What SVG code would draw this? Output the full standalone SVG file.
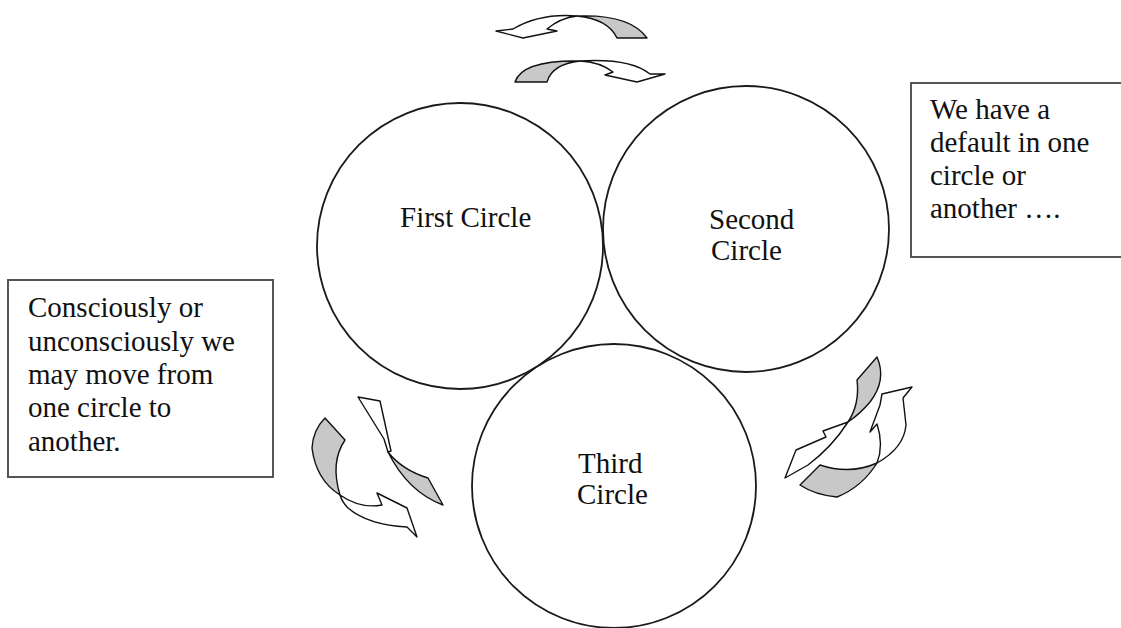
<svg xmlns="http://www.w3.org/2000/svg" width="1121" height="628" viewBox="0 0 1121 628">
<style>
.c{fill:#fff;stroke:#1a1a1a;stroke-width:1.8}
.b{fill:#fff;stroke:#555;stroke-width:2}
.t{font-family:"Liberation Serif","Times New Roman",serif;font-size:29px;fill:#111}
.w{fill:#fff;stroke:#111;stroke-width:1.4;stroke-linejoin:round}
.g{fill:#c8c8c8;stroke:#111;stroke-width:1.4;stroke-linejoin:round}
</style>
<rect width="1121" height="628" fill="#fff"/>
<g id="box-left">
<rect class="b" x="8" y="280" width="265" height="197"/>
<text class="t" x="28" y="317">Consciously or</text>
<text class="t" x="28" y="351">unconsciously we</text>
<text class="t" x="28" y="384">may move from</text>
<text class="t" x="28" y="417">one circle to</text>
<text class="t" x="28" y="451">another.</text>
</g>
<g id="box-right">
<rect class="b" x="911" y="83" width="220" height="174"/>
<text class="t" x="930" y="119">We have a</text>
<text class="t" x="930" y="152">default in one</text>
<text class="t" x="930" y="185">circle or</text>
<text class="t" x="930" y="218">another ….</text>
</g>
<g id="first-circle">
<circle class="c" cx="460" cy="246" r="143"/>
<text class="t" x="400" y="227">First Circle</text>
</g>
<g id="second-circle">
<circle class="c" cx="746" cy="229" r="143"/>
<text class="t" x="709" y="229">Second</text>
<text class="t" x="711" y="260">Circle</text>
</g>
<g id="third-circle">
<circle class="c" cx="614" cy="486" r="142"/>
<text class="t" x="578" y="473">Third</text>
<text class="t" x="577" y="504">Circle</text>
</g>
<g id="connectors">
<path class="w" d="M513,29 L496,31 L523,38 L557,31 L547,29 Q560,18 577,16 Q540,13 513,29 Z"/>
<path class="g" d="M577,16 Q630,14 647,38 L617,38 Q608,19 577,16 Z"/>
<path class="g" d="M515,82 Q522,60 580,61 Q552,64 547,82 Z"/>
<path class="w" d="M580,61 Q630,58 650,74 L665,74 L637,82 L605,75 L613,72 Q600,62 580,61 Z"/>
<path class="g" d="M325,418 L345,440 Q330,462 340,495 Q316,480 312,448 Q313,430 325,418 Z"/>
<path class="w" d="M340,495 Q360,509 382,505 L377,493 L407,508 L417,537 L407,527 Q368,525 348,508 Q342,502 340,495 Z"/>
<path class="w" d="M358,397 L380,401 L391,451 L388,452 L384,439 Z"/>
<path class="g" d="M388,452 Q402,470 428,478 L443,505 Q408,492 388,452 Z"/>
<path class="g" d="M877,357 Q887,380 870,402 Q860,414 848,422 Q860,404 857,380 Z"/>
<path class="w" d="M848,422 L823,431 L826,437 L796,450 L785,478 L808,465 Q832,447 848,422 Z"/>
<path class="w" d="M912,387 L882,394 L880,405 L870,432 L877,424 Q884,445 877,463 Q904,448 906,425 L903,398 Z"/>
<path class="g" d="M877,463 Q862,487 837,497 Q815,495 800,485 L820,465 Q850,475 877,463 Z"/>
</g>
</svg>
